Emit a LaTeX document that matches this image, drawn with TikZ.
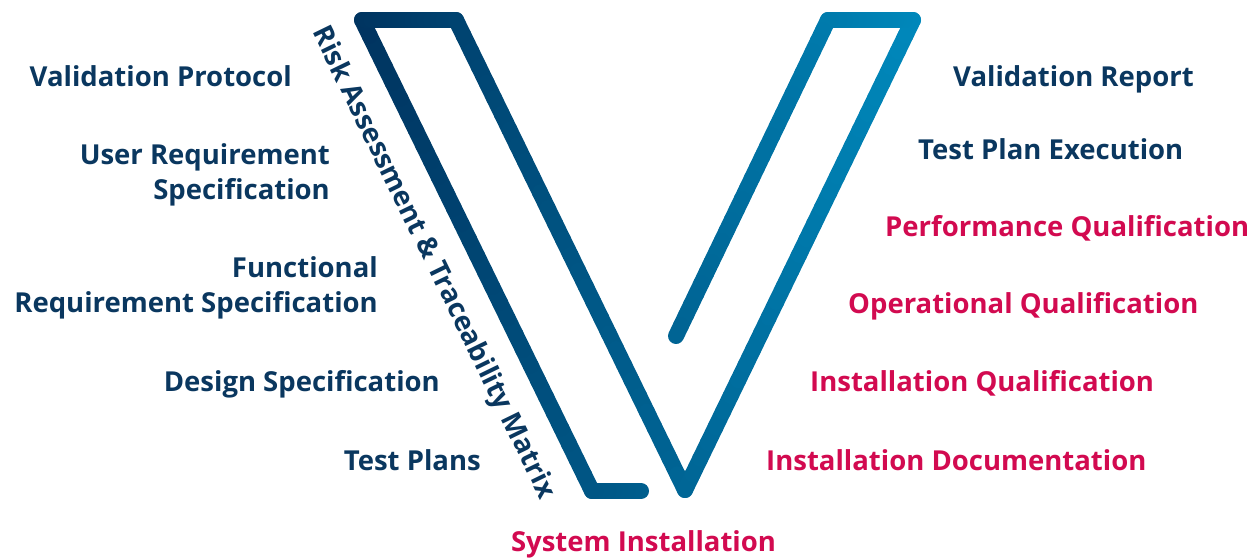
\documentclass[tikz,border=0pt]{standalone}
\usepackage{fontspec}
\setmainfont{Open Sans}
\definecolor{navy}{RGB}{10,55,95}
\definecolor{crim}{RGB}{210,10,80}
\definecolor{vleft}{RGB}{0,50,94}
\definecolor{vright}{RGB}{0,137,188}
\begin{document}
\begin{tikzpicture}[x=1pt,y=-1pt,
  lab/.style={inner sep=0pt,font=\fontsize{27.5}{35}\selectfont\bfseries},
  leftlab/.style={lab,navy,anchor=base east,align=right},
  rightlab/.style={lab,anchor=base west,align=left},
  redlab/.style={rightlab,crim},
  bluelab/.style={rightlab,navy},
  vpiece/.style={line width=16pt,line cap=round}]
\useasboundingbox (0,0) rectangle (1255,557);
% V outline with a horizontal colour gradient
\foreach \ax/\ay/\bx/\by in {641/491/592/491, 592/491/362/20, 362/20/456/20, 456/20/685/490, 685/490/913/20, 913/20/828/20, 828/20/676/336}{
  \foreach \i in {0,...,29}{
    \pgfmathsetmacro{\xa}{\ax+(\bx-\ax)*\i/30}
    \pgfmathsetmacro{\ya}{\ay+(\by-\ay)*\i/30}
    \pgfmathsetmacro{\xb}{\ax+(\bx-\ax)*(\i+1)/30}
    \pgfmathsetmacro{\yb}{\ay+(\by-\ay)*(\i+1)/30}
    \pgfmathsetmacro{\pc}{max(0,min(100,((\xa+\xb)/2-350)/5.7))}
    \draw[vpiece,color=vright!\pc!vleft] (\xa,\ya) -- (\xb,\yb);
  }
}
\node[leftlab] (vp) at (292,86) {Validation Protocol};
\node[leftlab] (urs) at (330,199) {User Requirement\\Specification};
\node[leftlab] (frs) at (378,312) {Functional\\Requirement Specification};
\node[leftlab] (ds) at (440,391) {Design Specification};
\node[leftlab] (tp) at (481,470) {Test Plans};
\node[bluelab] (vr) at (953,86) {Validation Report};
\node[bluelab] (tpe) at (918,159) {Test Plan Execution};
\node[redlab] (pq) at (885,236) {Performance Qualification};
\node[redlab] (oq) at (848,313) {Operational Qualification};
\node[redlab] (iq) at (810,391) {Installation Qualification};
\node[redlab] (id) at (766,470) {Installation Documentation};
\node[lab,crim,anchor=base] (si) at (643.5,551) {System Installation};
\node[lab,navy,rotate=-64] (ra) at (433,263) {Risk Assessment \& Traceability Matrix};
\end{tikzpicture}
\end{document}
